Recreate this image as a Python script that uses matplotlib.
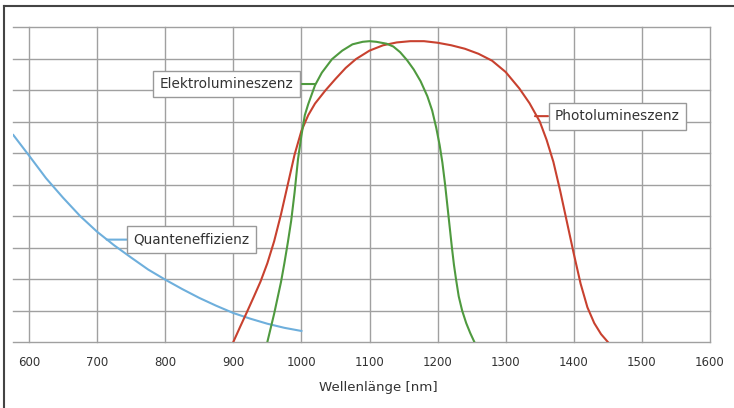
import matplotlib.pyplot as plt
from matplotlib.lines import Line2D

# Quanteneffizienz (blau), Wellenlaenge in nm / relativer Wert 0..10
qe_nm = [577, 600, 625, 650, 675, 700, 725, 750, 775, 800, 825, 850, 875, 900, 925, 950, 975, 1000]
qe_val = [6.57, 5.92, 5.2, 4.58, 4.0, 3.5, 3.07, 2.68, 2.3, 1.98, 1.68, 1.4, 1.15, 0.92, 0.74, 0.58, 0.45, 0.35]

# Photolumineszenz (rot)
pl_nm = [900, 910, 920, 930, 940, 950, 960, 970, 980, 990, 1000, 1010, 1020, 1035, 1050, 1065, 1080,
         1100, 1120, 1140, 1160, 1180, 1200, 1220, 1240, 1260, 1280, 1300, 1320, 1335, 1350, 1360,
         1370, 1380, 1390, 1400, 1410, 1420, 1430, 1440, 1450]
pl_val = [0, 0.48, 0.95, 1.43, 1.92, 2.5, 3.2, 4.05, 5.0, 5.95, 6.7, 7.2, 7.57, 7.98, 8.35, 8.7, 8.98,
          9.25, 9.42, 9.51, 9.55, 9.55, 9.5, 9.42, 9.31, 9.15, 8.93, 8.57, 8.05, 7.58, 7.0, 6.42,
          5.72, 4.8, 3.8, 2.8, 1.85, 1.1, 0.6, 0.25, 0]

# Elektrolumineszenz (gruen)
el_nm = [950, 955, 960, 965, 970, 975, 980, 985, 990, 995, 1000, 1005, 1010, 1020, 1030, 1045, 1060,
         1075, 1090, 1100, 1110, 1125, 1135, 1145, 1155, 1165, 1175, 1185, 1192, 1198, 1203, 1207,
         1211, 1215, 1218, 1221, 1224, 1227, 1231, 1236, 1242, 1248, 1254]
el_val = [0, 0.45, 0.9, 1.4, 1.9, 2.5, 3.15, 3.85, 4.75, 5.8, 6.55, 7.2, 7.55, 8.15, 8.55, 8.98, 9.25,
          9.45, 9.53, 9.55, 9.53, 9.47, 9.38, 9.2, 8.95, 8.65, 8.28, 7.8, 7.35, 6.8, 6.25, 5.7,
          5.0, 4.2, 3.6, 3.0, 2.45, 2.0, 1.45, 1.0, 0.6, 0.28, 0]

x_ticks = [600, 700, 800, 900, 1000, 1100, 1200, 1300, 1400, 1500, 1600]

c_qe = '#6eafdc'
c_pl = '#c8412f'
c_el = '#4f9a3f'
txt_col = '#333333'

fig = plt.figure(figsize=(7.34, 4.08), dpi=100)
ax = fig.add_axes([13 / 734, 66 / 408, 697 / 734, 315 / 408])

ax.plot(qe_nm, qe_val, color=c_qe, lw=1.5, zorder=3, solid_joinstyle='round')
ax.plot(pl_nm, pl_val, color=c_pl, lw=1.5, zorder=3, solid_joinstyle='round')
ax.plot(el_nm, el_val, color=c_el, lw=1.5, zorder=4, solid_joinstyle='round')

ax.set_xlim(576.5, 1600)
ax.set_ylim(0, 10)
ax.set_xticks(x_ticks)
ax.set_yticks(range(0, 11))
ax.tick_params(length=0, labelleft=False, labelsize=8.5, pad=10, labelcolor=txt_col)
ax.grid(color='#a0a0a0', lw=1)
for gl in ax.get_xgridlines() + ax.get_ygridlines():
    gl.set_clip_on(False)
for s in ax.spines.values():
    s.set_visible(False)

ax.set_xlabel('Wellenlänge [nm]', fontsize=9.6, color=txt_col)
ax.xaxis.set_label_coords(0.524, -0.146)
ax.xaxis.label.set_va('center')

# Beschriftungen mit kurzer Verbindungslinie zur Kurve
box = dict(boxstyle='square,pad=0.47', fc='white', ec='#999999', lw=1)
labels = [
    ('Elektrolumineszenz', (1020, 8.19), (890, 8.19), c_el),
    ('Photolumineszenz', (1343, 7.17), (1464, 7.17), c_pl),
    ('Quanteneffizienz', (714, 3.25), (839, 3.25), c_qe),
]
for text, xy, xytext, col in labels:
    ax.annotate(text, xy=xy, xytext=xytext, ha='center', va='center', fontsize=9.8,
                color=txt_col, bbox=box, zorder=6,
                arrowprops=dict(arrowstyle='-', color=col, lw=1.5, shrinkA=0, shrinkB=0))

# Rahmen oben und links
fig.add_artist(Line2D([4 / 734, 4 / 734], [0, 1 - 6 / 408], transform=fig.transFigure, color='#444444', lw=1.5))
fig.add_artist(Line2D([4 / 734, 1], [1 - 6 / 408, 1 - 6 / 408], transform=fig.transFigure, color='#444444', lw=1.5))

fig.savefig('out.png', dpi=100)
